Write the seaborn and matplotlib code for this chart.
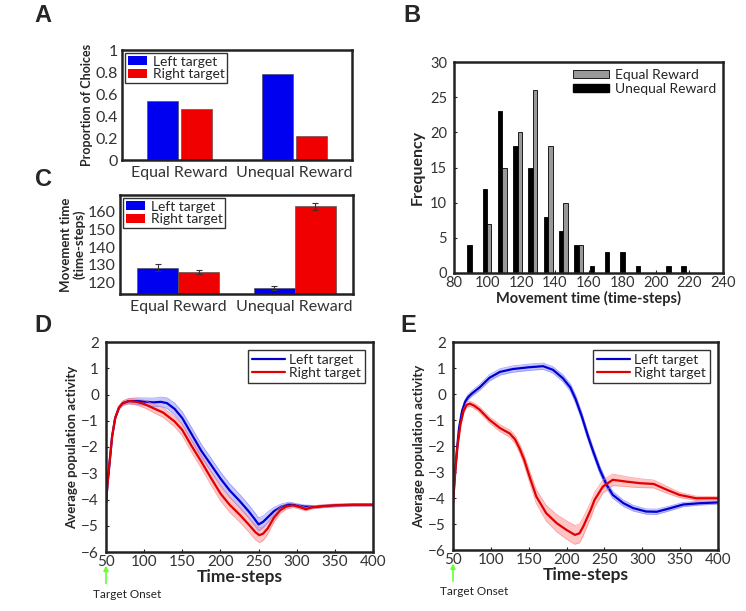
import numpy as np
import pandas as pd
import matplotlib
matplotlib.use("Agg")
import matplotlib.pyplot as plt
from matplotlib.patches import Patch
from matplotlib.lines import Line2D
import seaborn as sns

# ---------------- data ----------------
CONDITIONS = ["Equal Reward", "Unequal Reward"]
TARGETS = ["Left target", "Right target"]

# A: proportion of choices
prop_left = [0.54, 0.78]
prop_right = [0.46, 0.22]

# C: movement time (mean, sem)
mt_left = [128.5, 117.0]
mt_right = [126.0, 163.0]
mt_left_err = [1.8, 1.2]
mt_right_err = [1.2, 2.0]

# B: histogram of movement times
bin_centers = [90.5, 99.6, 108.7, 117.8, 126.9, 136.0, 145.1, 154.2,
               163.3, 172.4, 181.5, 190.6, 199.7, 208.8, 217.9]
freq_equal = [0, 7, 15, 20, 26, 18, 10, 4, 0, 0, 0, 0, 0, 0, 0]
freq_unequal = [4, 12, 23, 18, 15, 8, 6, 4, 1, 3, 3, 1, 0, 1, 1]

# D: equal reward, average population activity
d_left_t = [50, 52, 55, 58, 62, 67, 72, 80, 90, 100, 112, 122, 130, 140, 150, 162,
            175, 187, 200, 212, 225, 237, 245, 250, 256, 262, 270, 280, 290, 300,
            310, 325, 350, 375, 400]
d_left_y = [-4.15, -3.4, -2.5, -1.6, -0.9, -0.5, -0.33, -0.25, -0.25, -0.27, -0.3,
            -0.28, -0.33, -0.55, -0.9, -1.5, -2.15, -2.65, -3.2, -3.65, -4.05, -4.45,
            -4.75, -4.95, -4.85, -4.68, -4.45, -4.27, -4.18, -4.22, -4.27, -4.28,
            -4.23, -4.2, -4.2]
d_left_se = [0.05, 0.05, 0.05, 0.05, 0.05, 0.06, 0.08, 0.1, 0.12, 0.14, 0.16,
             0.18, 0.2, 0.22, 0.24, 0.25, 0.25, 0.25, 0.25, 0.25, 0.25, 0.25,
             0.25, 0.25, 0.22, 0.2, 0.15, 0.1, 0.08, 0.06, 0.06, 0.05, 0.05,
             0.05, 0.05]
d_right_t = [50, 52, 55, 58, 62, 67, 72, 80, 90, 100, 112, 125, 140, 150, 162, 175,
             187, 200, 212, 225, 237, 246, 251, 256, 262, 270, 278, 286, 295, 305,
             312, 320, 335, 350, 375, 400]
d_right_y = [-4.15, -3.4, -2.5, -1.6, -0.9, -0.5, -0.33, -0.25, -0.28, -0.36, -0.52,
             -0.69, -1.03, -1.35, -1.95, -2.56, -3.15, -3.77, -4.2, -4.57, -4.95,
             -5.25, -5.36, -5.3, -5.1, -4.7, -4.42, -4.27, -4.22, -4.3, -4.37,
             -4.3, -4.25, -4.22, -4.2, -4.2]
d_right_se = [0.05, 0.05, 0.05, 0.05, 0.05, 0.06, 0.08, 0.1, 0.12, 0.14, 0.16,
              0.18, 0.2, 0.22, 0.24, 0.25, 0.26, 0.27, 0.28, 0.28, 0.28, 0.28,
              0.28, 0.26, 0.22, 0.16, 0.12, 0.1, 0.08, 0.07, 0.06, 0.06, 0.05,
              0.05, 0.05, 0.05]

# E: unequal reward, average population activity
e_left_t = [50, 52, 55, 58, 62, 66, 70, 75, 85, 98, 112, 129, 151, 169, 182, 195,
            205, 212, 220, 228, 235, 244, 253, 261, 275, 288, 305, 319, 336, 354,
            376, 400]
e_left_y = [-4.2, -3.3, -2.2, -1.3, -0.65, -0.3, -0.12, 0.02, 0.25, 0.62, 0.85,
            0.96, 1.03, 1.07, 0.93, 0.61, 0.25, -0.2, -0.85, -1.6, -2.2, -2.92,
            -3.5, -3.88, -4.2, -4.39, -4.52, -4.53, -4.4, -4.25, -4.2, -4.17]
e_left_se = [0.05, 0.05, 0.06, 0.07, 0.08, 0.09, 0.1, 0.1, 0.11, 0.12, 0.12,
             0.12, 0.12, 0.12, 0.12, 0.13, 0.14, 0.15, 0.15, 0.15, 0.15, 0.15,
             0.14, 0.13, 0.12, 0.11, 0.1, 0.1, 0.09, 0.08, 0.07, 0.06]
e_right_t = [50, 53, 56, 60, 64, 68, 72, 78, 85, 98, 112, 125, 132, 138, 144, 151,
             160, 173, 187, 200, 211, 217, 222, 226, 232, 237, 248, 261, 279, 297,
             315, 333, 349, 371, 400]
e_right_y = [-4.2, -3.0, -2.0, -1.15, -0.65, -0.42, -0.37, -0.45, -0.6, -0.99,
             -1.31, -1.52, -1.75, -2.1, -2.53, -3.17, -3.94, -4.58, -4.97, -5.23,
             -5.42, -5.36, -5.1, -4.84, -4.45, -4.07, -3.56, -3.3, -3.37, -3.43,
             -3.46, -3.69, -3.88, -4.01, -4.01]
e_right_se = [0.05, 0.05, 0.06, 0.07, 0.08, 0.09, 0.1, 0.1, 0.11, 0.12, 0.13,
              0.14, 0.15, 0.17, 0.19, 0.22, 0.26, 0.3, 0.33, 0.35, 0.36, 0.36,
              0.34, 0.32, 0.3, 0.28, 0.25, 0.22, 0.19, 0.17, 0.15, 0.13, 0.1,
              0.08, 0.06]

BLUE = "#0000F0"
RED = "#F00000"
LINE_BLUE = "#0000D0"
LINE_RED = "#E00000"

sns.set_style("ticks")
plt.rcParams["font.family"] = ["Lato", "DejaVu Sans"]
plt.rcParams["axes.linewidth"] = 1.8
plt.rcParams["axes.edgecolor"] = "#222222"
plt.rcParams["xtick.color"] = "#222222"
plt.rcParams["ytick.color"] = "#222222"
plt.rcParams["xtick.labelcolor"] = "#333333"
plt.rcParams["ytick.labelcolor"] = "#333333"
plt.rcParams["xtick.direction"] = "in"
plt.rcParams["ytick.direction"] = "in"

W, H = 746, 611
fig = plt.figure(figsize=(W / 100, H / 100), dpi=100)


def px_axes(x0, y0, x1, y1):
    return fig.add_axes([x0 / W, 1 - y1 / H, (x1 - x0) / W, (y1 - y0) / H])


def panel_letter(x, y, s):
    fig.text(x / W, 1 - y / H, s, fontsize=17, fontweight="bold",
             family="Liberation Sans", ha="center", va="center")


# ---------------- A ----------------
axA = px_axes(122, 50, 352, 160)
dfA = pd.DataFrame({
    "cond": CONDITIONS * 2,
    "target": [TARGETS[0]] * 2 + [TARGETS[1]] * 2,
    "value": prop_left + prop_right,
})
sns.barplot(data=dfA, x="cond", y="value", hue="target", palette=[BLUE, RED],
            width=0.6, gap=0.1, ax=axA, saturation=1, legend=False,
            edgecolor="#444444", linewidth=0.4)
axA.set_xlim(-0.5, 1.5)
axA.set_ylim(0, 1)
axA.set_yticks([0, 0.2, 0.4, 0.6, 0.8, 1])
axA.set_yticklabels(["0", "0.2", "0.4", "0.6", "0.8", "1"])
axA.set_xlabel("")
axA.set_ylabel("Proportion of Choices", fontsize=9, fontweight="bold", labelpad=2)
axA.tick_params(axis="x", length=0, labelsize=11.5, pad=4)
axA.tick_params(axis="y", length=0, labelsize=11.5, pad=3)
axA.legend(handles=[Patch(facecolor=BLUE, edgecolor="none"),
                    Patch(facecolor=RED, edgecolor="none")],
           labels=TARGETS, loc="upper left", fontsize=10, frameon=True,
           fancybox=False, edgecolor="#333333", framealpha=1, borderpad=0.2,
           handlelength=1.4, handleheight=0.6, handletextpad=0.4,
           labelspacing=0.05, borderaxespad=0.2)

# ---------------- C ----------------
axC = px_axes(120, 195, 353, 294)
dfC = pd.DataFrame({
    "cond": CONDITIONS * 2,
    "target": [TARGETS[0]] * 2 + [TARGETS[1]] * 2,
    "value": mt_left + mt_right,
})
sns.barplot(data=dfC, x="cond", y="value", hue="target", palette=[BLUE, RED],
            width=0.7, ax=axC, saturation=1, legend=False,
            edgecolor="#555555", linewidth=0.5)
for i in range(2):
    axC.errorbar(i - 0.175, mt_left[i], yerr=mt_left_err[i], color="#333333",
                 capsize=2, lw=0.8, capthick=0.8, fmt="none")
    axC.errorbar(i + 0.175, mt_right[i], yerr=mt_right_err[i], color="#333333",
                 capsize=2, lw=0.8, capthick=0.8, fmt="none")
axC.set_xlim(-0.5, 1.5)
axC.set_ylim(113.6, 169.4)
axC.set_yticks([120, 130, 140, 150, 160])
axC.set_xlabel("")
axC.set_ylabel("Movement time\n(time-steps)", fontsize=9.5, fontweight="bold",
               labelpad=2, linespacing=1.0)
axC.tick_params(axis="x", length=0, labelsize=11.5, pad=4)
axC.tick_params(axis="y", length=0, labelsize=11.5, pad=3)
axC.legend(handles=[Patch(facecolor=BLUE, edgecolor="none"),
                    Patch(facecolor=RED, edgecolor="none")],
           labels=TARGETS, loc="upper left", fontsize=10, frameon=True,
           fancybox=False, edgecolor="#333333", framealpha=1, borderpad=0.2,
           handlelength=1.4, handleheight=0.6, handletextpad=0.4,
           labelspacing=0.05, borderaxespad=0.2)

# ---------------- B ----------------
axB = px_axes(454, 62, 723, 273)
dfB = pd.DataFrame({
    "center": bin_centers * 2,
    "count": freq_unequal + freq_equal,
    "cond": ["Unequal Reward"] * len(bin_centers) + ["Equal Reward"] * len(bin_centers),
})
sns.barplot(data=dfB, x="center", y="count", hue="cond",
            hue_order=["Unequal Reward", "Equal Reward"],
            palette=["#000000", "#999999"], native_scale=True, width=0.58,
            ax=axB, saturation=1, legend=False, edgecolor="#000000", linewidth=0.6)
axB.set_xlim(80, 240)
axB.set_ylim(0, 30)
axB.set_xticks(range(80, 241, 20))
axB.set_yticks(range(0, 31, 5))
axB.set_xlabel("Movement time (time-steps)", fontsize=10.5, fontweight="bold", labelpad=1)
axB.set_ylabel("Frequency", fontsize=11.5, fontweight="bold", labelpad=4)
axB.tick_params(labelsize=10.5, length=2, width=0.8)
axB.tick_params(axis="x", pad=2)
axB.tick_params(axis="y", pad=5)
axB.legend(handles=[Patch(facecolor="#999999", edgecolor="#000000", linewidth=0.6),
                    Patch(facecolor="#000000", edgecolor="#000000")],
           labels=CONDITIONS, loc="upper right", fontsize=10, frameon=False,
           handlelength=2.6, handleheight=0.45, handletextpad=0.4,
           labelspacing=0.15, borderaxespad=0.1)


# ---------------- D & E ----------------
def activity_panel(ax, lt, ly, lse, rt, ry, rse):
    ly, lse, ry, rse = map(np.asarray, (ly, lse, ry, rse))
    ax.fill_between(lt, ly - lse, ly + lse, color="#7f7fff", alpha=0.45, lw=0)
    ax.plot(lt, ly - lse, color="#7f7fff", lw=0.6, alpha=0.7)
    ax.plot(lt, ly + lse, color="#7f7fff", lw=0.6, alpha=0.7)
    sns.lineplot(x=lt, y=ly, color=LINE_BLUE, lw=1.6, ax=ax)
    ax.fill_between(rt, ry - rse, ry + rse, color="#ff8080", alpha=0.45, lw=0)
    ax.plot(rt, ry - rse, color="#ff8080", lw=0.6, alpha=0.7)
    ax.plot(rt, ry + rse, color="#ff8080", lw=0.6, alpha=0.7)
    sns.lineplot(x=rt, y=ry, color=LINE_RED, lw=1.6, ax=ax)
    ax.set_xlim(50, 400)
    ax.set_ylim(-6, 2)
    ax.set_xticks(range(50, 401, 50))
    ax.set_yticks(range(-6, 3))
    ax.set_xlabel("Time-steps", fontsize=12.5, fontweight="bold", labelpad=0)
    ax.set_ylabel("Average population activity", fontsize=9.5, fontweight="bold",
                  labelpad=2)
    ax.tick_params(labelsize=11, length=2, width=0.8)
    ax.tick_params(axis="x", pad=2)
    ax.tick_params(axis="y", pad=5)
    ax.legend(handles=[Line2D([], [], color=LINE_BLUE, lw=1.6),
                       Line2D([], [], color=LINE_RED, lw=1.6)],
              labels=TARGETS, loc="upper right", fontsize=10, frameon=True,
              fancybox=False, edgecolor="#333333", framealpha=1, borderpad=0.25,
              handlelength=2.4, handletextpad=0.3, labelspacing=0.1,
              borderaxespad=0.6)
    # green "Target Onset" arrow under the x axis
    ax.annotate("", xy=(50, -0.065), xycoords=("data", "axes fraction"),
                xytext=(50, -0.15), textcoords=("data", "axes fraction"),
                arrowprops=dict(arrowstyle="-|>", color="#66ff33", lw=1.2,
                                mutation_scale=7, shrinkA=0, shrinkB=0),
                annotation_clip=False)
    ax.text(-0.05, -0.2, "Target Onset", transform=ax.transAxes, fontsize=8.5,
            ha="left", va="center", color="#222222")


axD = px_axes(106, 342, 373, 552)
activity_panel(axD, d_left_t, d_left_y, d_left_se, d_right_t, d_right_y, d_right_se)
axE = px_axes(453, 342, 718, 550)
activity_panel(axE, e_left_t, e_left_y, e_left_se, e_right_t, e_right_y, e_right_se)

panel_letter(43, 16, "A")
panel_letter(412, 16, "B")
panel_letter(43, 179, "C")
panel_letter(43, 325, "D")
panel_letter(408, 325, "E")

fig.savefig("out.png", dpi=100)
